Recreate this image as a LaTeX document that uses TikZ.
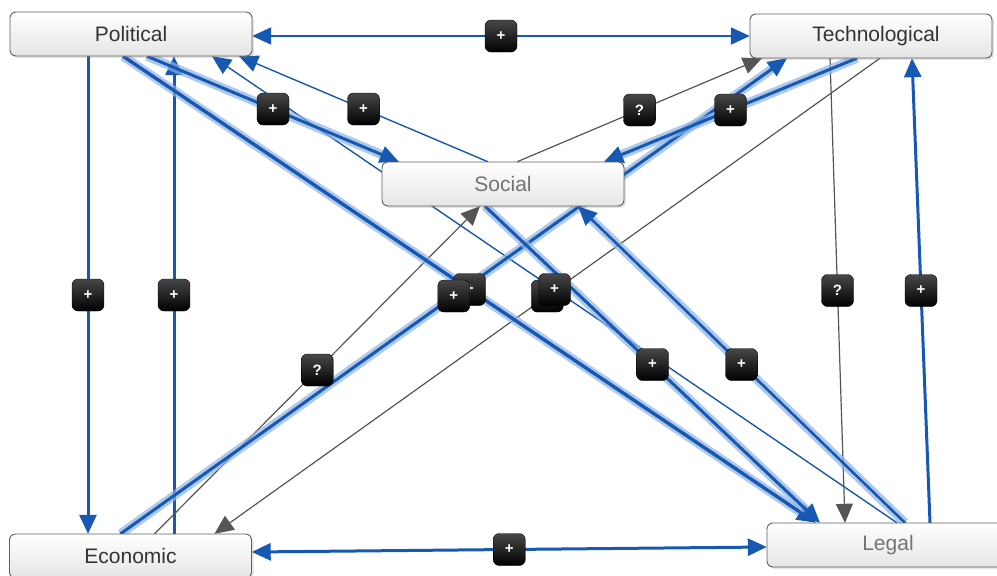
\documentclass[tikz,border=0pt]{standalone}
\usepackage{fontspec}
\setmainfont{Liberation Sans}
\usetikzlibrary{arrows.meta,shadows,calc}
\definecolor{edgeblue}{RGB}{22,88,178}
\definecolor{haloblue}{RGB}{140,178,228}
\definecolor{edgegray}{RGB}{85,85,85}
\definecolor{boxborder}{RGB}{95,95,95}
\tikzset{
  factor/.style={rounded corners=6pt, draw=boxborder, line width=0.9pt,
    top color=white, bottom color=black!10,
    minimum width=242pt, minimum height=44pt, inner sep=0pt,
    font=\fontsize{21}{25}\selectfont, text=black!80,
    drop shadow={opacity=0.22, shadow xshift=2pt, shadow yshift=-2pt}},
  faded/.style={text=black!55},
  badge/.style={rounded corners=6pt, minimum size=32pt, inner sep=0pt,
    top color=black!72, bottom color=black, draw=black, line width=0.4pt,
    text=white, font=\bfseries\fontsize{15}{15}\selectfont},
  tip/.style={-{Triangle[length=19pt,width=17pt]}},
  twotip/.style={{Triangle[length=19pt,width=17pt]}-{Triangle[length=19pt,width=17pt]}},
  medblue/.style={draw=edgeblue, line width=3pt},
  thinblue/.style={draw=edgeblue, line width=1.4pt},
  halo/.style={draw=edgeblue, line width=3pt,
    preaction={draw=haloblue, opacity=0.7, line width=9pt, arrows=-, shorten >=12pt, shorten <=0pt}},
  grayedge/.style={draw=edgegray, line width=1.2pt, color=edgegray},
}
\begin{document}
\begin{tikzpicture}[x=1pt,y=-1pt]
\useasboundingbox (0,0) rectangle (997,576);
% node positions
\path (131,34) coordinate (Pc) (871,36) coordinate (Tc) (503,184) coordinate (Sc)
      (130.5,556) coordinate (Ec) (888,545) coordinate (Lc);
% anchors for edges
\node[minimum width=242pt, minimum height=44pt, inner sep=0pt] (P) at (Pc) {};
\node[minimum width=242pt, minimum height=44pt, inner sep=0pt] (T) at (Tc) {};
\node[minimum width=242pt, minimum height=44pt, inner sep=0pt] (S) at (Sc) {};
\node[minimum width=242pt, minimum height=44pt, inner sep=0pt] (E) at (Ec) {};
\node[minimum width=242pt, minimum height=44pt, inner sep=0pt] (L) at (Lc) {};

% edges
\draw[medblue, line width=2.2pt, twotip] ([yshift=-2pt]P.east) -- coordinate (bPT) (T.west);
\draw[medblue, tip] ([xshift=-43pt]P.south) -- coordinate (bPE) ([xshift=-42.5pt]E.north);
\draw[medblue, tip] ([xshift=43.5pt]E.north) -- coordinate (bEP) ([xshift=43pt]P.south);
\draw[medblue, tip] ([xshift=42pt]L.north) -- coordinate (bLT) ([xshift=41pt]T.south);
\draw[grayedge, tip] ([xshift=-41pt]T.south) -- coordinate (bTL) ([xshift=-43pt]L.north);
\draw[medblue, twotip] ([yshift=4pt]E.east) -- coordinate (bEL) ([yshift=-2pt]L.west);

\draw[thinblue, tip] ([xshift=9pt]L.north) -- coordinate (bLP) ([xshift=81pt]P.south);
\draw[thinblue, tip] ([xshift=-15pt]S.north) -- coordinate (bSP) ([xshift=108pt]P.south);
\draw[grayedge, tip] ([xshift=14pt]S.north) -- coordinate (bST) ([xshift=-109pt]T.south);
\draw[grayedge, tip] ([xshift=24pt]E.north) -- coordinate (bES) ([xshift=-23pt]S.south);
\draw[grayedge, tip] ([xshift=9pt]T.south) -- coordinate (bTE) ([xshift=84pt]E.north);

\draw[halo, line width=3.4pt, tip] ([xshift=-8pt]P.south) -- coordinate (bPL) ([xshift=-72pt]L.north);
\draw[halo, tip] ([xshift=-10pt]E.north) -- coordinate (bET) ([xshift=-84pt]T.south);
\draw[halo, tip] ([xshift=16pt]P.south) -- coordinate (bPS) ([xshift=-104pt]S.north);
\draw[halo, tip] ([xshift=-14pt]T.south) -- coordinate (bTS) ([xshift=101pt]S.north);
\draw[halo, tip] ([xshift=-18pt]S.south) -- coordinate (bSL) ([xshift=-68pt]L.north);
\draw[halo, line width=2.6pt, tip] ([xshift=17pt]L.north) -- coordinate (bLS) ([xshift=75pt]S.south);

% visible boxes
\node[factor] (Pbox) at (Pc) {Political};
\node[factor] (Tbox) at (Tc) {\hspace*{10pt}Technological};
\node[factor, faded] (Sbox) at (Sc) {Social};
\node[factor] (Ebox) at (Ec) {Economic};
\node[factor, faded] (Lbox) at (Lc) {Legal};

% badges
\node[badge] (n1) at (bPT) {+};
\node[badge] (n2) at (bPE) {+};
\node[badge] (n3) at (bEP) {+};
\node[badge] (n4) at (bLT) {+};
\node[badge] (n5) at (bTL) {?};
\node[badge] (n6) at (bEL) {+};
\node[badge] (n7) at (bPS) {+};
\node[badge] (n8) at (bSP) {+};
\node[badge] (n9) at (bST) {?};
\node[badge] (n10) at (bTS) {+};
\node[badge] (n11) at (bES) {?};
\node[badge] (n12) at (bPL) {+};
\node[badge] (n13) at (bET) {+};
\node[badge] (n14) at (bTE) {?};
\node[badge] (n15) at (bLP) {+};
\node[badge] (n16) at (bSL) {+};
\node[badge] (n17) at (bLS) {+};
\end{tikzpicture}
\end{document}
